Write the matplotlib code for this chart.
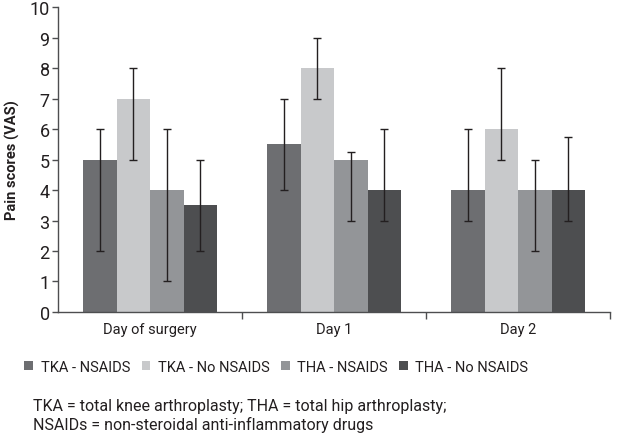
import numpy as np
import matplotlib.pyplot as plt

plt.rcParams['font.family'] = ['Roboto', 'DejaVu Sans']

days = ['Day of surgery', 'Day 1', 'Day 2']
groups = ['TKA - NSAIDS', 'TKA - No NSAIDS', 'THA - NSAIDS', 'THA - No NSAIDS']
colors = ['#6d6e71', '#c8c9cb', '#939598', '#4d4e50']

# median scores per group, per day
scores = [
    [5, 5.5, 4],
    [7, 8, 6],
    [4, 5, 4],
    [3.5, 4, 4],
]
# lower / upper ends of the whiskers
lows = [
    [2, 4, 3],
    [5, 7, 5],
    [1, 3, 2],
    [2, 3, 3],
]
highs = [
    [6, 7, 6],
    [8, 9, 8],
    [6, 5.25, 5],
    [5, 6, 5.75],
]

text_col = '#231f20'
fig = plt.figure(figsize=(6.24, 4.35), dpi=100)
ax = fig.add_axes([0.093, 0.2805, 0.885, 0.701])

x = np.arange(len(days))
w = 0.182
for i, g in enumerate(groups):
    pos = x + (i - 1.5) * w
    vals = np.array(scores[i])
    err = [vals - np.array(lows[i]), np.array(highs[i]) - vals]
    ax.bar(pos, vals, w, color=colors[i], label=g, edgecolor='none', zorder=2)
    ax.errorbar(pos, vals, yerr=err, fmt='none', ecolor='#231f20', elinewidth=1.0,
                capsize=3, capthick=1.0, zorder=3)

ax.set_xlim(-0.5, 2.5)
ax.set_ylim(0, 10)
ax.set_yticks(range(0, 11))
ax.set_xticks([0.5, 1.5, 2.5], minor=False)
ax.set_xticklabels([])
ax.set_xticks(x, minor=True)
ax.set_xticklabels(days, minor=True)
ax.tick_params(axis='x', which='minor', length=0, pad=7, labelsize=10.5, labelcolor=text_col)
ax.tick_params(axis='x', which='major', length=5, width=1, color='#4d4e50')
ax.tick_params(axis='y', length=4, width=1, color='#4d4e50', labelsize=13, labelcolor=text_col, pad=2)

for s in ['top', 'right']:
    ax.spines[s].set_visible(False)
for s in ['left', 'bottom']:
    ax.spines[s].set_color('#4d4e50')
    ax.spines[s].set_linewidth(1)

ax.set_ylabel('Pain scores (VAS)', fontsize=10.5, fontweight='bold', color=text_col, labelpad=7)

fig.legend(loc='center', bbox_to_anchor=(0.443, 0.154), ncol=4, frameon=False,
           fontsize=10.5, handlelength=0.6, handleheight=0.6, handletextpad=0.5,
           columnspacing=0.8, labelcolor=text_col)

fig.text(0.053, 0.043, 'TKA = total knee arthroplasty; THA = total hip arthroplasty;\n'
         'NSAIDs = non-steroidal anti-inflammatory drugs',
         fontsize=11.5, color=text_col, linespacing=1.2, va='center')

fig.savefig('out.png', dpi=100)
